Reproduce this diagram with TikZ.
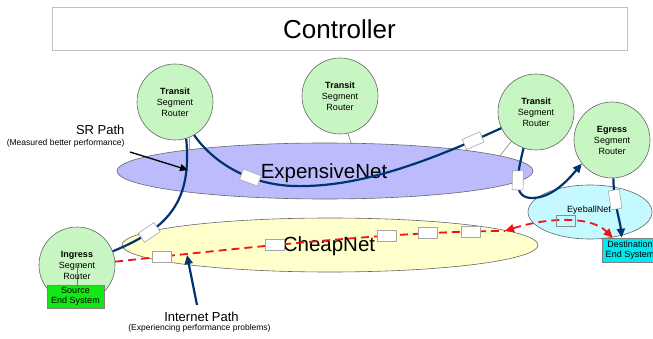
\documentclass[tikz,border=0pt]{standalone}
\usepackage{fontspec}
\setmainfont{Liberation Sans}
\usetikzlibrary{arrows.meta,shapes.geometric}
\definecolor{circg}{RGB}{200,246,194}
\definecolor{expc}{RGB}{188,188,252}
\definecolor{cheapc}{RGB}{255,255,204}
\definecolor{eyec}{RGB}{196,250,255}
\definecolor{srcg}{RGB}{20,232,20}
\definecolor{dstc}{RGB}{0,232,240}
\definecolor{navy}{RGB}{0,52,112}
\definecolor{rd}{RGB}{240,20,20}
\begin{document}
\begin{tikzpicture}[x=1pt,y=-1pt,
  router/.style={circle,draw=black!60,line width=0.6pt,fill=circg,minimum size=76pt,inner sep=0pt,align=center,font=\fontsize{9}{11}\selectfont},
  net/.style={ellipse,draw=black!60,line width=0.6pt,inner sep=0pt},
  pkt/.style={solid,draw=black!35,fill=white,minimum width=19pt,minimum height=11pt,inner sep=0pt,line width=0.6pt},
  pktg/.style={solid,draw=black!45,minimum width=19pt,minimum height=11pt,inner sep=0pt,line width=0.6pt},
  srline/.style={draw=navy,line width=2.2pt},
  redline/.style={draw=rd,line width=1.8pt,dash pattern=on 8pt off 5pt},
  conn/.style={draw=black!55,line width=0.5pt},
  endsys/.style={draw=black!50,line width=0.6pt,align=center,inner sep=0pt,font=\fontsize{9}{10}\selectfont},
  bigtxt/.style={font=\fontsize{20.5}{24}\selectfont},
  midtxt/.style={font=\fontsize{13}{15}\selectfont},
  smalltxt/.style={font=\fontsize{8.5}{10}\selectfont},
  headA/.style={-{Triangle[length=9pt,width=8pt]}},
]
\useasboundingbox (0,0) rectangle (653,339);
\clip (0,0) rectangle (653,339);

% controller
\node[draw=black!25,line width=1pt,minimum width=575pt,minimum height=43pt,inner sep=0pt,font=\fontsize{26}{30}\selectfont] (ctl) at (339.5,29.5) {Controller};

% networks
\node[net,fill=expc,minimum width=416pt,minimum height=56pt] (exp) at (325,171) {};
\node[net,fill=cheapc,minimum width=416pt,minimum height=54pt] (cheap) at (330,245) {};
\node[net,fill=eyec,minimum width=124pt,minimum height=54pt] (eye) at (590,212) {};
\node[bigtxt] (expl) at (324,173) {ExpensiveNet};
\node[bigtxt] (cheapl) at (329,246) {CheapNet};
\node[font=\fontsize{9}{11}\selectfont] (eyel) at (589,210) {EyeballNet};

% routers
\node[router] (t1) at (175,102) {\textbf{Transit}\\Segment\\Router};
\node[router] (t2) at (340,96) {\textbf{Transit}\\Segment\\Router};
\node[router] (t3) at (536,112) {\textbf{Transit}\\Segment\\Router};
\node[router] (eg) at (612,140) {\textbf{Egress}\\Segment\\Router};
\node[router,path picture={\draw[conn] (path picture bounding box.center) -- ++(0,40);}] (ing) at (77,265) {\textbf{Ingress}\\Segment\\Router};

% router to network links
\draw[conn] (t1.-68) -- (exp.171.5);
\draw[conn] (t2.-78) -- (exp.47);
\draw[conn] (t3.-130) -- (exp.5);

% end systems
\node[endsys,fill=srcg,minimum width=57pt,minimum height=23pt] (src) at (75.5,296.5) {Source\\End System};
\node[endsys,fill=dstc,minimum width=56pt,minimum height=24pt] (dst) at (630,250) {Destination\\End System};

% SR path (blue)
\draw[srline] (ing.21) .. controls (170,228) and (192,200) .. node[pkt,sloped,pos=0.25] {} (t1.-73);
\draw[srline] (t1.-60) .. controls (215,165) and (255,188) .. node[pkt,sloped,pos=0.6] {} (305,186)
  .. controls (370,185) and (440,156) .. node[pkt,sloped,pos=0.85] {} (t3.-155);
\draw[srline,headA] (t3.-109) .. controls (517,175) and (512,198) .. node[pkt,sloped,pos=0.45] {} (532,198)
  .. controls (552,198) and (568,180) .. (eg.-142);
\draw[srline,headA] (eg.-88) .. controls (614,205) and (620,220) .. node[pkt,sloped,pos=0.3] {} ([xshift=20pt]dst.north west);

% Internet path (red)
\coordinate (rmid) at (505,231);
\draw[redline] (ing.5) .. controls (250,247) and (400,231) ..
  node[pkt,pos=0.115] {} node[pkt,pos=0.387] {} node[pkt,pos=0.665] {}
  node[pkt,pos=0.775] {} node[pkt,pos=0.895] {} (rmid);
\draw[redline,{Triangle[length=9pt,width=8pt]}-{Triangle[length=9pt,width=8pt]}] (rmid) .. controls (545,218) and (590,215) .. node[pktg,pos=0.5] {} ([xshift=11pt]dst.north west);

% labels
\node[midtxt,anchor=east] (srl) at (128,130) {SR Path};
\node[smalltxt,anchor=east] (srs) at (128,143) {(Measured better performance)};
\coordinate (srA) at (130,152);
\coordinate (srB) at (188,170);
\draw[line width=1.3pt,-{Triangle[length=8pt,width=7pt]}] (srA) -- (srB);

\node[midtxt] (ipl) at (201.5,317) {Internet Path};
\node[smalltxt] (ips) at (199.5,328.5) {(Experiencing performance problems)};
\coordinate (ipA) at (197,305);
\coordinate (ipB) at (187,255);
\draw[srline,headA] (ipA) -- (ipB);
\end{tikzpicture}
\end{document}
